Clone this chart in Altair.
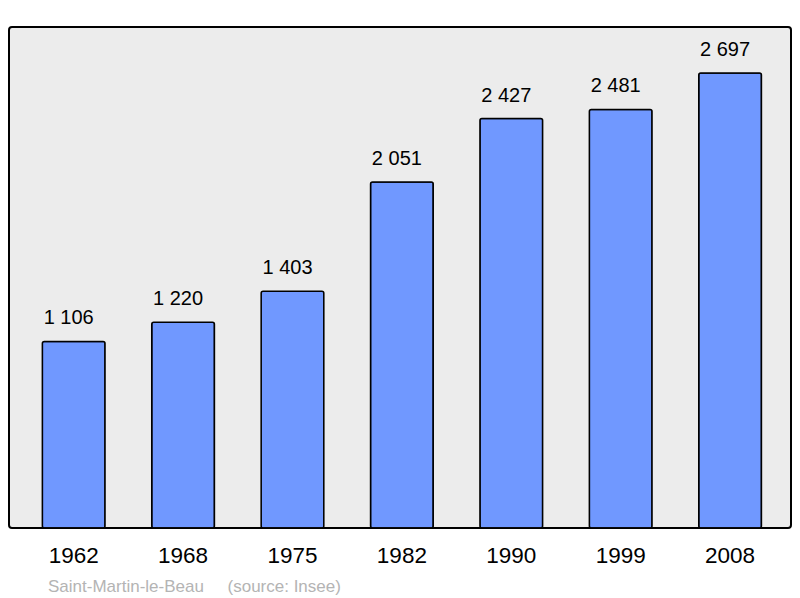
import altair as alt
import pandas as pd

years = ["1962", "1968", "1975", "1982", "1990", "1999", "2008"]
population = [1106, 1220, 1403, 2051, 2427, 2481, 2697]
labels = ["1 106", "1 220", "1 403", "2 051", "2 427", "2 481", "2 697"]
caption = "Saint-Martin-le-Beau\u00a0\u00a0\u00a0\u00a0\u00a0(source: Insee)"

df = pd.DataFrame({"year": years, "pop": population, "label": labels})

FONT = "Liberation Sans"

x = alt.X("year:N", sort=years, title=None,
          scale=alt.Scale(paddingInner=0.427, paddingOuter=0.2875, align=0.53),
          axis=alt.Axis(labelAngle=0, labelFontSize=22.5, labelColor="black",
                        labelFont=FONT, ticks=False, domain=False,
                        labelPadding=16, grid=False))
y = alt.Y("pop:Q", title=None, scale=alt.Scale(domain=[0, 2970], nice=False),
          axis=None)

bars = alt.Chart(df).mark_bar(
    color="#7098ff", stroke="black", strokeWidth=1.5, cornerRadius=2
).encode(x=x, y=y)

text = alt.Chart(df).mark_text(
    dy=-23, dx=-5, fontSize=20, font=FONT, color="black"
).encode(x=x, y=y, text="label:N")

chart = (bars + text).properties(
    width=782, height=501,
    padding={"left": 1, "top": 19, "right": 1, "bottom": 80},
    autosize=alt.AutoSizeParams(type="none"),
    title=alt.TitleParams(text=caption, orient="bottom", anchor="start",
                          fontSize=17, font=FONT, fontWeight="normal",
                          color="#b4b4b4", offset=12, dx=39),
).configure_view(
    fill="#ececec", stroke="black", strokeWidth=2, cornerRadius=3
)

chart.save("out.html", embed_options={"renderer": "svg", "actions": False})
